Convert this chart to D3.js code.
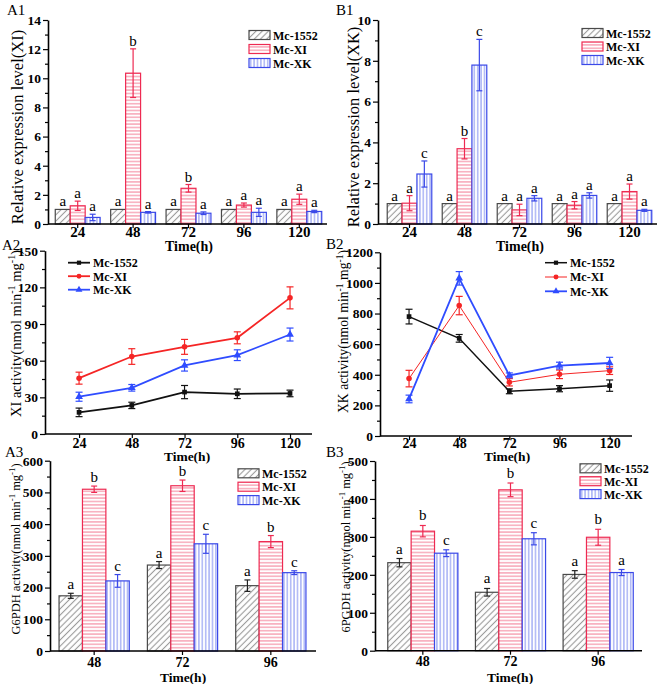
<!DOCTYPE html>
<html>
<head>
<meta charset="utf-8">
<script src="https://cdn.jsdelivr.net/npm/d3@7"></script>
<style>
body { margin: 0; background: #fff; }
svg { display: block; }
svg text { font-family: "Liberation Serif", "Times New Roman", serif !important; }
</style>
</head>
<body>
<svg id="fig" width="661" height="684"></svg>
<script>
// ---- data ----
var times = [24, 48, 72, 96, 120];
var times3 = [48, 72, 96];
var seriesNames = ["Mc-1552", "Mc-XI", "Mc-XK"];

// A1: relative expression level (XI)
var a1Mc1552 = [1.0, 1.0, 1.0, 1.0, 1.0];
var a1Mc1552Err = [0, 0, 0, 0, 0];
var a1McXI = [1.25, 10.35, 2.45, 1.3, 1.7];
var a1McXIErr = [0.32, 1.67, 0.26, 0.14, 0.35];
var a1McXK = [0.45, 0.8, 0.74, 0.8, 0.86];
var a1McXKErr = [0.22, 0.05, 0.09, 0.28, 0.08];
var a1Letters = [["a","a","a"],["a","b","a"],["a","b","a"],["a","a","a"],["a","a","a"]];

// B1: relative expression level (XK)
var b1Mc1552 = [1.0, 1.0, 1.0, 1.0, 1.0];
var b1Mc1552Err = [0, 0, 0, 0, 0];
var b1McXI = [1.02, 3.69, 0.69, 0.92, 1.59];
var b1McXIErr = [0.37, 0.5, 0.28, 0.18, 0.37];
var b1McXK = [2.45, 7.79, 1.26, 1.4, 0.67];
var b1McXKErr = [0.64, 1.26, 0.13, 0.13, 0.05];
var b1Letters = [["a","a","c"],["a","b","c"],["a","a","a"],["a","a","a"],["a","a","a"]];

// A2: XI activity
var a2Mc1552 = [17.7, 23.4, 34.3, 32.9, 33.2];
var a2Mc1552Err = [3.5, 2.6, 5.4, 3.9, 2.7];
var a2McXI = [45.7, 63.4, 71.3, 78.7, 111.4];
var a2McXIErr = [4.9, 6.4, 6.1, 4.9, 9.0];
var a2McXK = [30.5, 37.8, 56.1, 64.5, 81.4];
var a2McXKErr = [3.7, 2.7, 4.6, 4.4, 5.3];

// B2: XK activity
var b2Mc1552 = [780, 638, 292, 309, 329];
var b2Mc1552Err = [48, 25, 16, 20, 37];
var b2McXI = [375, 852, 351, 403, 427];
var b2McXIErr = [54, 60, 24, 28, 25];
var b2McXK = [242, 1030, 396, 460, 477];
var b2McXKErr = [25, 44, 16, 22, 37];

// A3: G6PDH activity
var a3Mc1552 = [174, 271, 206];
var a3Mc1552Err = [8, 11, 18];
var a3McXI = [510, 521, 345];
var a3McXIErr = [10, 18, 19];
var a3McXK = [221, 338, 247];
var a3McXKErr = [20, 30, 6];
var a3Letters = [["a","b","c"],["a","b","c"],["a","b","c"]];

// B3: 6PGDH activity
var b3Mc1552 = [232, 154, 201];
var b3Mc1552Err = [11, 10, 10];
var b3McXI = [315, 424, 299];
var b3McXIErr = [15, 18, 21];
var b3McXK = [257, 295, 206];
var b3McXKErr = [9, 16, 8];
var b3Letters = [["a","b","c"],["a","b","c"],["a","b","a"]];

// ---- drawing ----
var svg = d3.select("#fig");
var defs = svg.append("defs");

var barStroke = ["#4a4a4a", "#ee2a52", "#3a48e8"];
var barHatch = ["#9a9a9a", "#f58aa0", "#8c98f2"];
var lineColor = ["#111111", "#f52525", "#2f4cff"];

//patterns for bars
function makePattern(id, w, h, rot, lineColor, x1, y1, x2, y2) {
  var p = defs.append("pattern")
      .attr("id", id)
      .attr("patternUnits", "userSpaceOnUse")
      .attr("width", w).attr("height", h);
  if (rot) p.attr("patternTransform", "rotate(" + rot + ")");
  p.append("rect").attr("width", w).attr("height", h).attr("fill", "#fff");
  p.append("line").attr("x1", x1).attr("y1", y1).attr("x2", x2).attr("y2", y2)
      .attr("stroke", lineColor).attr("stroke-width", 1.1);
}
makePattern("p0", 4.4, 10, 45, barHatch[0], 2.2, 0, 2.2, 10);
makePattern("p1", 10, 3.4, 0, barHatch[1], 0, 1.7, 10, 1.7);
makePattern("p2", 3.4, 10, 0, barHatch[2], 1.7, 0, 1.7, 10);

function panelLabel(txt, x, y) {
  svg.append("text").attr("x", x).attr("y", y)
      .style("font-size", "15px").text(txt);
}

// rotated axis title, superscripts shifted with dy
function yTitle(parts, x, y, size) {
  var t = svg.append("text")
      .attr("transform", "translate(" + x + "," + y + ") rotate(-90)")
      .attr("text-anchor", "middle")
      .style("font-size", size + "px");
  var shift = size * 0.38, up = false;
  parts.forEach(function(p) {
    var ts = t.append("tspan").text(p.t);
    if (p.sup) {
      ts.attr("dy", -shift).style("font-size", (size * 0.7) + "px");
      up = true;
    } else if (up) {
      ts.attr("dy", shift);
      up = false;
    }
  });
}

function unitParts(name) {
  return [{t: name + " activity(nmol min"}, {t: "-1", sup: true}, {t: " mg"}, {t: "-1", sup: true}, {t: ")"}];
}

function yAxis(y, ax, major, minor, fs) {
  svg.append("g").attr("transform", "translate(" + ax + ",0)")
      .call(d3.axisLeft(y).tickValues(minor).tickSize(3).tickFormat(""))
      .call(function(g) { g.select(".domain").remove(); g.selectAll("line").attr("stroke-width", 1.2); });
  svg.append("g").attr("transform", "translate(" + ax + ",0)")
      .call(d3.axisLeft(y).tickValues(major).tickSize(5).tickPadding(2).tickSizeOuter(0).tickFormat(d3.format("d")))
      .call(function(g) {
        g.select(".domain").attr("stroke-width", 1.6);
        g.selectAll("line").attr("stroke-width", 1.2);
        g.selectAll("text").style("font-size", fs + "px").style("font-weight", "bold").attr("fill", "#000");
      });
}

function xAxisLine(x0, x1, yb) {
  svg.append("line").attr("x1", x0).attr("x2", x1).attr("y1", yb).attr("y2", yb)
      .attr("stroke", "#000").attr("stroke-width", 1.6);
}

function xTicks(scale, yb, labelBase, fs) {
  svg.append("g").attr("transform", "translate(0," + yb + ")")
      .call(d3.axisBottom(scale).tickSize(4).tickSizeOuter(0))
      .call(function(g) {
        g.select(".domain").remove();
        g.selectAll("line").attr("stroke-width", 1.2);
        g.selectAll("text").attr("dy", null).attr("y", labelBase - yb)
            .style("font-size", fs + "px").style("font-weight", "bold");
      });
}

function timeTitle(x, y, fs) {
  svg.append("text").attr("x", x).attr("y", y).attr("text-anchor", "middle")
      .style("font-size", fs + "px").style("font-weight", "bold").text("Time(h)");
}

function barPanel(o) {
  var x = d3.scaleBand().domain(o.cats).range([o.x0, o.x1])
      .paddingInner(o.pad).paddingOuter(o.pad / 2);
  var xs = d3.scaleBand().domain([0, 1, 2]).range([0, x.bandwidth()]);
  var y = d3.scaleLinear().domain([0, o.ymax]).range([o.yb, o.yt]);

  var rows = [];
  o.cats.forEach(function(c, i) {
    for (var s = 0; s < 3; s++) {
      rows.push({c: c, s: s, v: o.vals[s][i], e: o.errs[s][i], l: o.letters[i][s]});
    }
  });

  var g = svg.append("g");
  g.selectAll("rect.bar").data(rows).enter().append("rect")
      .attr("class", "bar")
      .attr("x", function(d) { return x(d.c) + xs(d.s); })
      .attr("y", function(d) { return y(d.v); })
      .attr("width", xs.bandwidth())
      .attr("height", function(d) { return y(0) - y(d.v); })
      .attr("fill", function(d) { return "url(#p" + d.s + ")"; })
      .attr("stroke", function(d) { return barStroke[d.s]; })
      .attr("stroke-width", 1.2);

  //error bars
  var eb = g.selectAll("g.err").data(rows.filter(function(d) { return d.e > 0; })).enter().append("g")
      .attr("stroke", function(d) { return d.s == 0 ? "#222" : barStroke[d.s]; })
      .attr("stroke-width", 1.2);
  eb.append("line")
      .attr("x1", function(d) { return x(d.c) + xs(d.s) + xs.bandwidth() / 2; })
      .attr("x2", function(d) { return x(d.c) + xs(d.s) + xs.bandwidth() / 2; })
      .attr("y1", function(d) { return y(d.v - d.e); })
      .attr("y2", function(d) { return y(d.v + d.e); });
  [-1, 1].forEach(function(k) {
    eb.append("line")
        .attr("x1", function(d) { return x(d.c) + xs(d.s) + xs.bandwidth() / 2 - 3; })
        .attr("x2", function(d) { return x(d.c) + xs(d.s) + xs.bandwidth() / 2 + 3; })
        .attr("y1", function(d) { return y(d.v + k * d.e); })
        .attr("y2", function(d) { return y(d.v + k * d.e); });
  });

  //significance letters
  g.selectAll("text.let").data(rows).enter().append("text")
      .attr("x", function(d) { return x(d.c) + xs(d.s) + xs.bandwidth() / 2; })
      .attr("y", function(d) { return y(d.v + d.e) - o.gap; })
      .attr("text-anchor", "middle")
      .style("font-size", o.letterFs + "px")
      .text(function(d) { return d.l; });

  xAxisLine(o.ax, o.axEnd, o.yb);
  xTicks(x, o.yb, o.tickBase, o.xfs);
  yAxis(y, o.ax, o.major, o.minor, o.yfs);

  //legend
  var lg = svg.append("g").attr("transform", "translate(" + o.legX + "," + o.legY + ")");
  seriesNames.forEach(function(n, i) {
    lg.append("rect").attr("x", 0).attr("y", i * o.legStep - 4.5)
        .attr("width", 21).attr("height", 9)
        .attr("fill", "url(#p" + i + ")").attr("stroke", barStroke[i]).attr("stroke-width", 1.2);
    lg.append("text").attr("x", 24).attr("y", i * o.legStep + 4.5)
        .style("font-size", "12px").style("font-weight", "bold").text(n);
  });
}

function linePanel(o) {
  var x = d3.scaleLinear().domain(o.xdom).range([o.ax, o.axEnd]);
  var y = d3.scaleLinear().domain([0, o.ymax]).range([o.yb, o.yt]);
  var line = d3.line().x(function(d) { return x(d.t); }).y(function(d) { return y(d.v); });

  xAxisLine(o.ax, o.axEnd, o.yb);
  svg.append("g").attr("transform", "translate(0," + o.yb + ")")
      .call(d3.axisBottom(x).tickValues(times).tickSize(4).tickSizeOuter(0))
      .call(function(g) {
        g.select(".domain").remove();
        g.selectAll("line").attr("stroke-width", 1.2);
        g.selectAll("text").attr("dy", null).attr("y", o.tickBase - o.yb)
            .style("font-size", o.xfs + "px").style("font-weight", "bold");
      });
  yAxis(y, o.ax, o.major, o.minor, o.yfs);

  var sym = [d3.symbolSquare, d3.symbolCircle, d3.symbolTriangle];
  var symSize = [22, 24, 26];

  o.vals.forEach(function(vals, s) {
    var pts = times.map(function(t, i) { return {t: t, v: vals[i], e: o.errs[s][i]}; });
    var g = svg.append("g");
    g.append("path").datum(pts).attr("d", line).attr("fill", "none")
        .attr("stroke", lineColor[s]).attr("stroke-width", o.lw[s]);
    var eb = g.selectAll("g.e").data(pts).enter().append("g")
        .attr("stroke", lineColor[s]).attr("stroke-width", 1.2);
    eb.append("line")
        .attr("x1", function(d) { return x(d.t); }).attr("x2", function(d) { return x(d.t); })
        .attr("y1", function(d) { return y(d.v - d.e); }).attr("y2", function(d) { return y(d.v + d.e); });
    [-1, 1].forEach(function(k) {
      eb.append("line")
          .attr("x1", function(d) { return x(d.t) - 3.5; }).attr("x2", function(d) { return x(d.t) + 3.5; })
          .attr("y1", function(d) { return y(d.v + k * d.e); }).attr("y2", function(d) { return y(d.v + k * d.e); });
    });
    g.selectAll("path.m").data(pts).enter().append("path")
        .attr("class", "m")
        .attr("transform", function(d) { return "translate(" + x(d.t) + "," + y(d.v) + ")"; })
        .attr("d", d3.symbol().type(sym[s]).size(symSize[s]))
        .attr("fill", lineColor[s]);
  });

  //legend
  var lg = svg.append("g").attr("transform", "translate(" + o.legX + "," + o.legY + ")");
  seriesNames.forEach(function(n, i) {
    var yy = i * o.legStep;
    lg.append("line").attr("x1", 0).attr("x2", 22).attr("y1", yy).attr("y2", yy)
        .attr("stroke", lineColor[i]).attr("stroke-width", o.lw[i]);
    lg.append("path").attr("transform", "translate(11," + yy + ")")
        .attr("d", d3.symbol().type(sym[i]).size(symSize[i] * 0.8)).attr("fill", lineColor[i]);
    lg.append("text").attr("x", 25).attr("y", yy + 4.5)
        .style("font-size", "12px").style("font-weight", "bold").text(n);
  });
}

// A1
barPanel({
  cats: times, vals: [a1Mc1552, a1McXI, a1McXK], errs: [a1Mc1552Err, a1McXIErr, a1McXKErr],
  letters: a1Letters, x0: 50, x1: 327, pad: 0.19, ax: 48, axEnd: 327,
  yb: 224, yt: 20, ymax: 14, major: d3.range(0, 15, 2), minor: d3.range(1, 14, 2),
  gap: 3, letterFs: 15, tickBase: 237, xfs: 15, yfs: 13.5,
  legX: 249, legY: 35, legStep: 14
});
yTitle([{t: "Relative expression level(XI)"}], 23, 127, 16.5);
timeTitle(189, 251, 14);
panelLabel("A1", 7, 15);

// B1
barPanel({
  cats: times, vals: [b1Mc1552, b1McXI, b1McXK], errs: [b1Mc1552Err, b1McXIErr, b1McXKErr],
  letters: b1Letters, x0: 382, x1: 657, pad: 0.19, ax: 378, axEnd: 657,
  yb: 224, yt: 20, ymax: 10, major: d3.range(0, 11, 2), minor: d3.range(1, 10, 2),
  gap: 3, letterFs: 15, tickBase: 237, xfs: 15, yfs: 13.5,
  legX: 582, legY: 33, legStep: 13.5
});
yTitle([{t: "Relative expression level(XK)"}], 359, 127, 16.5);
timeTitle(520, 251, 14);
panelLabel("B1", 336, 15);

// A2
linePanel({
  vals: [a2Mc1552, a2McXI, a2McXK], errs: [a2Mc1552Err, a2McXIErr, a2McXKErr],
  xdom: [8.5, 130], ax: 45, axEnd: 312, yb: 434, yt: 250.7, ymax: 150,
  major: d3.range(0, 151, 30), minor: d3.range(15, 150, 30),
  tickBase: 447.5, xfs: 14, yfs: 13.5, lw: [1.8, 1.8, 1.8],
  legX: 68, legY: 262.7, legStep: 13.5
});
yTitle(unitParts("XI"), 20.5, 333.5, 14.5);
timeTitle(187, 461, 13.5);
panelLabel("A2", 2, 250);

// B2
linePanel({
  vals: [b2Mc1552, b2McXI, b2McXK], errs: [b2Mc1552Err, b2McXIErr, b2McXKErr],
  xdom: [10.1, 130.7], ax: 380, axEnd: 632, yb: 436, yt: 252.3, ymax: 1200,
  major: d3.range(0, 1201, 200), minor: d3.range(100, 1200, 200),
  tickBase: 447.5, xfs: 14, yfs: 13.5, lw: [1.5, 1, 1.8],
  legX: 545, legY: 262.7, legStep: 14.3
});
yTitle(unitParts("XK"), 348, 331.5, 13.7);
timeTitle(507, 461, 13.5);
panelLabel("B2", 326, 249);

// A3
barPanel({
  cats: times3, vals: [a3Mc1552, a3McXI, a3McXK], errs: [a3Mc1552Err, a3McXIErr, a3McXKErr],
  letters: a3Letters, x0: 50, x1: 315, pad: 0.205, ax: 50, axEnd: 316,
  yb: 651, yt: 460.7, ymax: 600, major: d3.range(0, 601, 100), minor: d3.range(50, 600, 100),
  gap: 4, letterFs: 15, tickBase: 666.5, xfs: 14, yfs: 13.5,
  legX: 238, legY: 473.3, legStep: 13.4
});
yTitle(unitParts("G6PDH"), 20, 549, 12.5);
timeTitle(183, 681.5, 13.5);
panelLabel("A3", 5, 456.5);

// B3
barPanel({
  cats: times3, vals: [b3Mc1552, b3McXI, b3McXK], errs: [b3Mc1552Err, b3McXIErr, b3McXKErr],
  letters: b3Letters, x0: 379, x1: 642, pad: 0.2, ax: 375, axEnd: 642,
  yb: 650.7, yt: 461, ymax: 500, major: d3.range(0, 501, 100), minor: d3.range(50, 500, 100),
  gap: 5, letterFs: 15, tickBase: 666.5, xfs: 14, yfs: 13.5,
  legX: 580, legY: 468.3, legStep: 12.9
});
yTitle(unitParts("6PGDH"), 350, 547, 12.5);
timeTitle(510, 681.5, 13.5);
panelLabel("B3", 326, 457);
</script>
</body>
</html>
